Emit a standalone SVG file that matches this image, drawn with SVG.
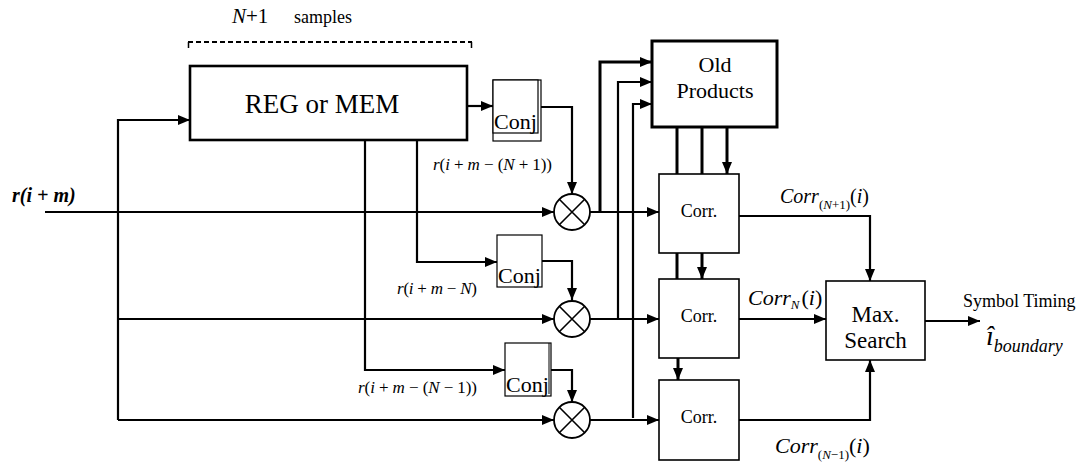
<svg xmlns="http://www.w3.org/2000/svg" width="1090" height="466" viewBox="0 0 1090 466">
<style>
text{font-family:"Liberation Serif","Times New Roman",serif;fill:#000}
.ln{fill:none;stroke:#000;stroke-width:2.2}
.tk{fill:none;stroke:#000;stroke-width:3}
.bx{fill:#fff;stroke:#000;stroke-width:1.6}
.cj{fill:#fff;stroke:#000;stroke-width:1.2}
.it{font-style:italic}
.mul{fill:#fff;stroke:#000;stroke-width:1.8}
</style>
<defs>
<marker id="ah" viewBox="0 0 12 10" refX="12" refY="5" markerWidth="12" markerHeight="10" markerUnits="userSpaceOnUse" orient="auto"><path d="M0,0 L12,5 L0,10 z" fill="#000"/></marker>
</defs>
<rect width="1090" height="466" fill="#fff"/>

<g id="connectors">
<path class="ln" d="M45,212 H554" marker-end="url(#ah)"/>
<path class="ln" d="M118,420 V120 H190" marker-end="url(#ah)"/>
<path class="ln" d="M118,319 H554" marker-end="url(#ah)"/>
<path class="ln" d="M118,420 H554" marker-end="url(#ah)"/>
<path class="ln" d="M467,106 H493" marker-end="url(#ah)"/>
<path class="ln" d="M541,107 H572 V194" marker-end="url(#ah)"/>
<path class="ln" d="M417,140 V262 H497" marker-end="url(#ah)"/>
<path class="ln" d="M542,261 H572 V300" marker-end="url(#ah)"/>
<path class="ln" d="M365,140 V370 H505" marker-end="url(#ah)"/>
<path class="ln" d="M551,370 H572 V402" marker-end="url(#ah)"/>
<path class="ln" d="M590,212 H659" marker-end="url(#ah)"/>
<path class="tk" d="M600,212 V62 H652" marker-end="url(#ah)"/>
<path class="ln" d="M590,319 H659" marker-end="url(#ah)"/>
<path class="ln" d="M618,319 V82 H652" marker-end="url(#ah)"/>
<path class="ln" d="M590,420 H659" marker-end="url(#ah)"/>
<path class="ln" d="M633,418 V104 H652" marker-end="url(#ah)"/>
<path class="tk" d="M677,127 V174"/>
<path class="tk" d="M702,127 V174"/>
<path class="tk" d="M727,127 V174" marker-end="url(#ah)"/>
<path class="tk" d="M677,253 V279"/>
<path class="tk" d="M702,253 V279" marker-end="url(#ah)"/>
<path class="tk" d="M678,358 V380" marker-end="url(#ah)"/>
<path class="ln" d="M739,216 H870 V281" marker-end="url(#ah)"/>
<path class="ln" d="M739,319 H826" marker-end="url(#ah)"/>
<path class="ln" d="M739,420 H870 V360" marker-end="url(#ah)"/>
<path class="ln" d="M925,321 H980" marker-end="url(#ah)"/>
</g>

<g id="samples-span">
<path d="M188.5,48 V42 M471.5,48 V42" stroke="#000" stroke-width="1.5" fill="none"/>
<path d="M188,42 H472" stroke="#000" stroke-width="1.8" stroke-dasharray="5 3" fill="none"/>
<text x="232" y="23" font-size="21"><tspan class="it">N</tspan>+1</text>
<text x="294" y="23" font-size="18">samples</text>
</g>

<g id="reg">
<rect class="bx" x="190" y="66" width="277" height="74" style="stroke-width:2.6"/>
<text x="322" y="113" font-size="27" text-anchor="middle">REG or MEM</text>
</g>

<g id="conj1">
<rect class="cj" x="493" y="80" width="48" height="61"/>
<rect class="cj" x="493" y="80" width="45" height="53"/>
<text x="494" y="129" font-size="22">Conj</text>
</g>
<g id="conj2">
<rect class="cj" x="497" y="235" width="45" height="52"/>
<text x="498" y="283" font-size="22">Conj</text>
</g>
<g id="conj3">
<rect class="cj" x="505" y="343" width="46" height="53"/>
<line x1="549" y1="343" x2="549" y2="394" stroke="#000" stroke-width="1"/>
<text x="506" y="392" font-size="22">Conj</text>
</g>

<g id="mult1">
<circle class="mul" cx="572" cy="212" r="18"/>
<path d="M559.3,199.3 L584.7,224.7 M584.7,199.3 L559.3,224.7" stroke="#000" stroke-width="1.6"/>
</g>
<g id="mult2">
<circle class="mul" cx="572" cy="319" r="18"/>
<path d="M559.3,306.3 L584.7,331.7 M584.7,306.3 L559.3,331.7" stroke="#000" stroke-width="1.6"/>
</g>
<g id="mult3">
<circle class="mul" cx="572" cy="420" r="18"/>
<path d="M559.3,407.3 L584.7,432.7 M584.7,407.3 L559.3,432.7" stroke="#000" stroke-width="1.6"/>
</g>

<g id="old-products">
<rect class="bx" x="652" y="41" width="125" height="86" style="stroke-width:3"/>
<text x="715" y="72" font-size="22" text-anchor="middle">Old</text>
<text x="715" y="98" font-size="22" text-anchor="middle">Products</text>
</g>

<g id="corr1">
<rect class="bx" x="659" y="174" width="80" height="79"/>
<text x="699" y="217" font-size="18" text-anchor="middle">Corr.</text>
</g>
<g id="corr2">
<rect class="bx" x="659" y="279" width="80" height="79"/>
<text x="699" y="322" font-size="18" text-anchor="middle">Corr.</text>
</g>
<g id="corr3">
<rect class="bx" x="659" y="380" width="80" height="80"/>
<text x="699" y="423" font-size="18" text-anchor="middle">Corr.</text>
</g>

<g id="max-search">
<rect class="bx" x="826" y="281" width="99" height="79"/>
<text x="875.5" y="322" font-size="23" text-anchor="middle">Max.</text>
<text x="875.5" y="348" font-size="23" text-anchor="middle">Search</text>
</g>

<g id="labels">
<text x="12" y="202" font-size="20" font-weight="bold" font-style="italic">r(i + m)</text>
<text x="433" y="170" font-size="17" textLength="119" lengthAdjust="spacing"><tspan class="it">r</tspan>(<tspan class="it">i</tspan> + <tspan class="it">m</tspan> − (<tspan class="it">N</tspan> + 1))</text>
<text x="397" y="294" font-size="17" textLength="80" lengthAdjust="spacing"><tspan class="it">r</tspan>(<tspan class="it">i</tspan> + <tspan class="it">m</tspan> − <tspan class="it">N</tspan>)</text>
<text x="358" y="393" font-size="17" textLength="119" lengthAdjust="spacing"><tspan class="it">r</tspan>(<tspan class="it">i</tspan> + <tspan class="it">m</tspan> − (<tspan class="it">N</tspan> − 1))</text>
<text x="780" y="203" font-size="20"><tspan class="it">Corr</tspan><tspan font-size="13" dy="6">(<tspan class="it">N</tspan>+1)</tspan><tspan dy="-6">(<tspan class="it">i</tspan>)</tspan></text>
<text x="748" y="305" font-size="22"><tspan class="it">Corr</tspan><tspan font-size="13" dy="4" class="it">N</tspan><tspan dy="-4" dx="2">(<tspan class="it">i</tspan>)</tspan></text>
<text x="775" y="453" font-size="22"><tspan class="it">Corr</tspan><tspan font-size="13" dy="6">(<tspan class="it">N</tspan>−1)</tspan><tspan dy="-6">(<tspan class="it">i</tspan>)</tspan></text>
<text x="963" y="307" font-size="18">Symbol Timing</text>
<text x="986" y="345" font-size="28" class="it">î<tspan font-size="18" dy="7">boundary</tspan></text>
</g>
</svg>
